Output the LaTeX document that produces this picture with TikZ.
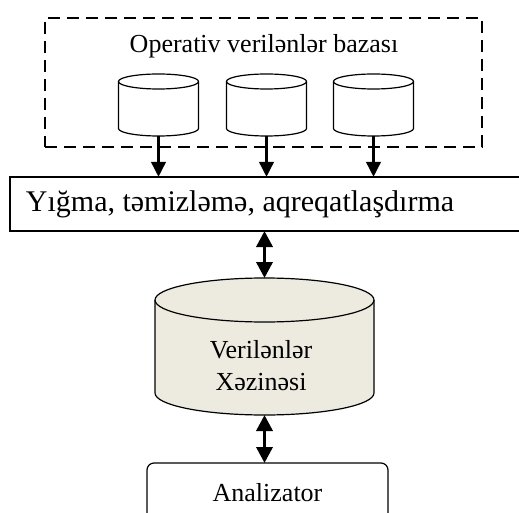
\documentclass[tikz,border=0pt]{standalone}
\usepackage{fontspec}
\setmainfont{Liberation Serif}
\usetikzlibrary{arrows.meta}
\definecolor{anbarbeige}{RGB}{237,235,224}

% silindr: #1 node, #2 x radius, #3 y radius, #4 fill
\newcommand{\dbshape}[4]{%
\filldraw[line width=1.2pt, fill=#4] ([yshift=-#3]#1.north west) -- ([yshift=#3]#1.south west)
  arc[start angle=180, end angle=360, x radius=#2, y radius=#3] -- ([yshift=-#3]#1.north east)
  arc[start angle=0, end angle=180, x radius=#2, y radius=#3] -- cycle;
\draw[line width=1.2pt] ([yshift=-#3]#1.north west) arc[start angle=180, end angle=360, x radius=#2, y radius=#3];}

\begin{document}
\begin{tikzpicture}[x=1pt,y=-1pt]
\tikzstyle{every node}=[font=\fontsize{26}{32}\selectfont, inner sep=0pt, outer sep=0pt]
\tikzstyle{db}=[minimum width=80pt, minimum height=62pt]
\tikzstyle{flow}=[line width=3.5pt, -{Triangle[length=15pt,width=14pt]}]
\tikzstyle{biflow}=[line width=3.5pt, {Triangle[length=16pt,width=16pt]}-{Triangle[length=16pt,width=16pt]}]
\useasboundingbox (0,0) rectangle (519,513);

% operativ bazalar
\node (obaza) [draw, line width=2pt, dash pattern=on 12pt off 7pt, minimum width=437pt, minimum height=129pt] at (263.5,82.5) {};
\node (obazatitle) at (264,46) {Operativ verilənlər bazası};
\node (db1) [db] at (158.5,105) {};
\node (db2) [db] at (266.5,105) {};
\node (db3) [db] at (373.5,105) {};
\dbshape{db1}{40pt}{7.5pt}{white}
\dbshape{db2}{40pt}{7.5pt}{white}
\dbshape{db3}{40pt}{7.5pt}{white}

% yigma
\node (yigma) [draw, line width=1.2pt, minimum width=530pt, minimum height=54pt] at (275,204) {};
\node (yigmatext) [font=\fontsize{30}{36}\selectfont] at (240,204) {Yığma, təmizləmə, aqreqatlaşdırma};

% xezine
\node (anbar) [minimum width=219pt, minimum height=137pt] at (264.5,346.5) {};
\dbshape{anbar}{109.5pt}{22pt}{anbarbeige}
\node (anbartext) [align=center] at (261,366) {Verilənlər\\Xəzinəsi};

\node (analiz) [draw, line width=1.2pt, rounded corners=7pt, minimum width=241pt, minimum height=60pt] at (267.5,493) {Analizator};

\draw[flow] (db1.south) -- (db1.south |- yigma.north);
\draw[flow] (db2.south) -- (db2.south |- yigma.north);
\draw[flow] (db3.south) -- (db3.south |- yigma.north);
%\draw[biflow] (yigma.south) -- (anbar.north);
\draw[biflow] (anbar.north |- yigma.south) -- (anbar.north);
\draw[biflow] (anbar.south) -- (anbar.south |- analiz.north);

\end{tikzpicture}
\end{document}
